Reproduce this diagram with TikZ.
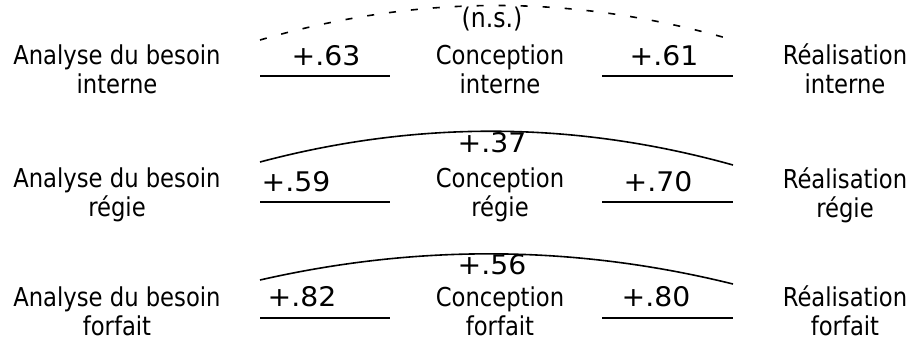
\documentclass[tikz,border=0pt]{standalone}
\usepackage{fontspec}
\setmainfont[FakeStretch=0.97]{DejaVu Sans Condensed}
\usepackage{graphicx}
\begin{document}
\begin{tikzpicture}[x=1pt,y=-1pt,
  lbl/.style={align=center,inner sep=0pt,font=\fontsize{26}{29}\selectfont},
  num/.style={inner sep=0pt,font=\fontsize{27}{29}\selectfont},
  seg/.style={line width=1.8pt},
  arcline/.style={line width=1.6pt},
  dasharc/.style={line width=1.6pt,dash pattern=on 7pt off 15pt}]
\useasboundingbox (0,0) rectangle (915,354);
% ---------- row 1 : interne ----------
\node[lbl] (a1) at (117,69) {Analyse du besoin\\interne};
\node[lbl] (c1) at (500,69) {Conception\\interne};
\node[lbl] (r1) at (845,69) {Réalisation\\interne};
\coordinate (l1a) at (260,76); \coordinate (l1b) at (390,76);
\coordinate (r1a) at (602,76); \coordinate (r1b) at (733,76);
\draw[seg] (l1a) -- (l1b);
\draw[seg] (r1a) -- (r1b);
\node[num] (n1a) at (326,56) {\scalebox{1.2}[1]{+.63}};
\node[num] (n1b) at (664,56) {\scalebox{1.2}[1]{+.61}};
\coordinate (d1a) at (260,40); \coordinate (d1b) at (733,40);
\draw[dasharc] (d1a) .. controls (418,-6) and (575,-6) .. (d1b);
\node[num] (ns) at (492,19) {(n.s.)};
% ---------- row 2 : regie ----------
\node[lbl] (a2) at (117,195) {Analyse du besoin\\régie};
\node[lbl] (c2) at (500,195) {Conception\\régie};
\node[lbl] (r2) at (845,195) {Réalisation\\régie};
\coordinate (l2a) at (260,202); \coordinate (l2b) at (390,202);
\coordinate (r2a) at (602,202); \coordinate (r2b) at (733,202);
\draw[seg] (l2a) -- (l2b);
\draw[seg] (r2a) -- (r2b);
\node[num] (n2a) at (296,182) {\scalebox{1.2}[1]{+.59}};
\node[num] (n2b) at (658,182) {\scalebox{1.2}[1]{+.70}};
\coordinate (e2a) at (260,162); \coordinate (e2b) at (733,165);
\draw[arcline] (e2a) .. controls (418,120) and (575,121) .. (e2b);
\node[num] (n2c) at (492,143) {\scalebox{1.2}[1]{+.37}};
% ---------- row 3 : forfait ----------
\node[lbl] (a3) at (117,311) {Analyse du besoin\\forfait};
\node[lbl] (c3) at (500,311) {Conception\\forfait};
\node[lbl] (r3) at (845,311) {Réalisation\\forfait};
\coordinate (l3a) at (260,318); \coordinate (l3b) at (390,318);
\coordinate (r3a) at (602,318); \coordinate (r3b) at (733,318);
\draw[seg] (l3a) -- (l3b);
\draw[seg] (r3a) -- (r3b);
\node[num] (n3a) at (302,297) {\scalebox{1.2}[1]{+.82}};
\node[num] (n3b) at (656,297) {\scalebox{1.2}[1]{+.80}};
\coordinate (e3a) at (260,280); \coordinate (e3b) at (733,284);
\draw[arcline] (e3a) .. controls (418,244) and (575,245) .. (e3b);
\node[num] (n3c) at (492,265) {\scalebox{1.2}[1]{+.56}};
\end{tikzpicture}
\end{document}
